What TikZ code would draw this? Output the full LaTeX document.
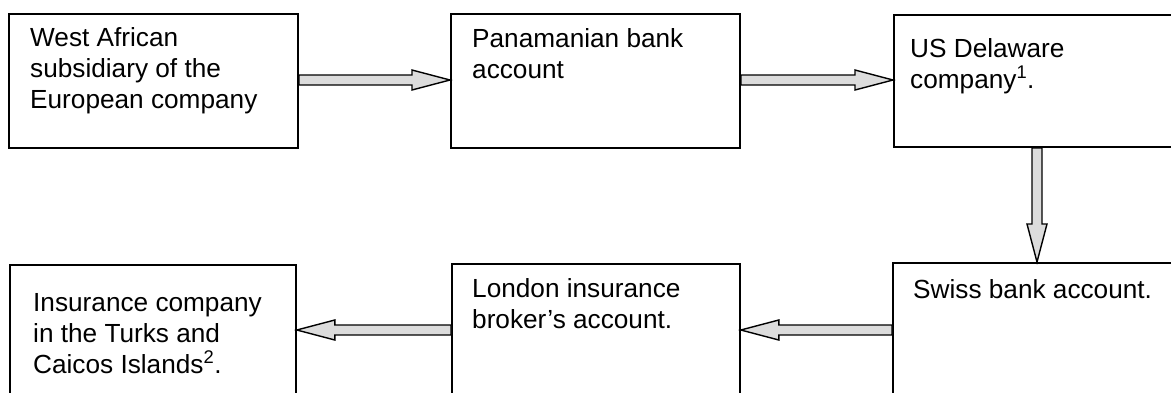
\documentclass[tikz,border=0pt]{standalone}
\usepackage{fontspec}
\setmainfont{Liberation Sans}
\usetikzlibrary{calc}
\definecolor{arrowgray}{RGB}{220,220,220}
\begin{document}
\begin{tikzpicture}[x=1pt,y=-1pt,
  box/.style={draw, line width=1.8pt, rectangle, inner sep=0pt, anchor=north west},
  txt/.style={anchor=base west, inner sep=0pt, align=left, font=\fontsize{26.2}{31}\selectfont},
  fatarrow/.style={draw=black, line width=1.4pt, fill=arrowgray, line join=miter}]
\useasboundingbox (0,0) rectangle (1171,392);
\clip (0,0) rectangle (1171,392);
% boxes
\node[box, minimum width=289pt, minimum height=134pt] (b1) at (8,13) {};
\node[box, minimum width=289pt, minimum height=134pt] (b2) at (450,13) {};
\node[box, minimum width=300pt, minimum height=132pt] (b3) at (893,14) {};
\node[box, minimum width=300pt, minimum height=150pt] (b4) at (892,262) {};
\node[box, minimum width=288pt, minimum height=150pt] (b5) at (451,263) {};
\node[box, minimum width=286pt, minimum height=150pt] (b6) at (9,264) {};
% texts (anchor is the baseline of the last line)
\node[txt] (t1) at (30,108.5) {West African\\subsidiary of the\\European company};
\node[txt] (t2) at (472,78.5) {Panamanian bank\\account};
\node[txt] (t3) at (910,88) {US Delaware\\company\textsuperscript{1}.};
\node[txt] (t4) at (913,298) {Swiss bank account.};
\node[txt] (t5) at (472,328) {London insurance\\broker’s account.};
\node[txt] (t6) at (33,373) {Insurance company\\in the Turks and\\Caicos Islands\textsuperscript{2}.};
% arrow end points
\coordinate (a1s) at ($(b1.north east)+(0,67)$);
\coordinate (a1e) at (a1s -| b2.west);
\coordinate (a2s) at ($(b2.north east)+(0,67)$);
\coordinate (a2e) at (a2s -| b3.west);
\coordinate (a3s) at ($(b3.south west)+(144,0)$);
\coordinate (a3e) at (a3s |- b4.north);
\coordinate (a4s) at ($(b4.north west)+(0,68)$);
\coordinate (a4e) at (a4s -| b5.east);
\coordinate (a5s) at ($(b5.north west)+(0,67)$);
\coordinate (a5e) at (a5s -| b6.east);
% block arrows: shaft 10, head 20 wide and 38 long
\foreach \s/\e in {a1s/a1e, a2s/a2e, a3s/a3e, a4s/a4e, a5s/a5e}{
  \draw[fatarrow] let \p1=(\s), \p2=(\e),
      \n1={veclen(\x2-\x1,\y2-\y1)}, \n2={atan2(\y2-\y1,\x2-\x1)} in
    [shift={(\p1)}, rotate=\n2]
    (0pt,5pt) -- ({\n1-38pt},5pt) -- ({\n1-38pt},10pt) -- (\n1,0pt)
    -- ({\n1-38pt},-10pt) -- ({\n1-38pt},-5pt) -- (0pt,-5pt) -- cycle;
}
\end{tikzpicture}
\end{document}
